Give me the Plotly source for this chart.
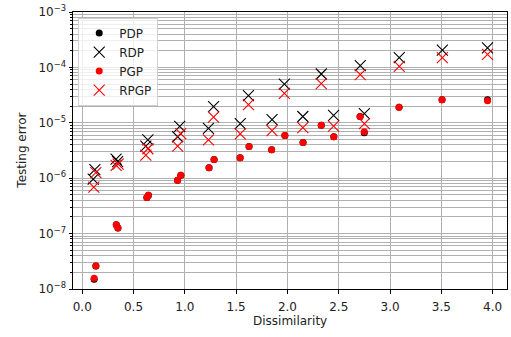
import plotly.graph_objects as go

# ---- data ----
rdp_x = [0.107, 0.123, 0.33, 0.345, 0.62, 0.64, 0.93, 0.95, 1.23, 1.28, 1.54, 1.62,
         1.85, 1.97, 2.15, 2.33, 2.45, 2.71, 2.75, 3.09, 3.51, 3.95]
rdp_y = [9.6e-7, 1.43e-6, 2.2e-6, 2.0e-6, 3.8e-6, 4.9e-6, 5.6e-6, 8.6e-6, 7.9e-6, 1.96e-5,
         9.7e-6, 3.1e-5, 1.14e-5, 5.0e-5, 1.3e-5, 7.6e-5, 1.36e-5, 1.08e-4, 1.46e-5,
         1.5e-4, 2.05e-4, 2.25e-4]

rpgp_x = [0.113, 0.133, 0.33, 0.35, 0.62, 0.64, 0.93, 0.96, 1.23, 1.28, 1.54, 1.62,
          1.85, 1.97, 2.15, 2.33, 2.45, 2.71, 2.75, 3.09, 3.51, 3.95]
rpgp_y = [6.9e-7, 1.26e-6, 1.7e-6, 1.8e-6, 2.6e-6, 3.4e-6, 3.8e-6, 6.4e-6, 4.9e-6, 1.27e-5,
          6.3e-6, 2.12e-5, 7.2e-6, 3.4e-5, 8.2e-6, 5.1e-5, 8.7e-6, 7.4e-5, 9.7e-6,
          1.04e-4, 1.5e-4, 1.72e-4]

pgp_x = [0.116, 0.133, 0.332, 0.348, 0.63, 0.645, 0.929, 0.961, 1.236, 1.285, 1.539, 1.626,
         1.846, 1.975, 2.152, 2.33, 2.452, 2.708, 2.749, 3.088, 3.507, 3.95]
pgp_y = [1.56e-8, 2.6e-8, 1.44e-7, 1.26e-7, 4.5e-7, 4.9e-7, 9.2e-7, 1.13e-6, 1.55e-6, 2.17e-6,
         2.33e-6, 3.75e-6, 3.27e-6, 5.9e-6, 4.4e-6, 9.0e-6, 5.6e-6, 1.3e-5, 6.9e-6,
         1.91e-5, 2.6e-5, 2.5e-5]

pdp_x = [0.116, 0.133, 0.332, 0.348, 0.63, 0.645, 0.929, 0.961, 1.236, 1.285, 1.539, 1.626,
         1.846, 1.975, 2.152, 2.33, 2.452, 2.708, 2.749, 3.088, 3.507, 3.95]
pdp_y = [1.5e-8, 2.6e-8, 1.44e-7, 1.26e-7, 4.5e-7, 4.9e-7, 9.2e-7, 1.13e-6, 1.55e-6, 2.17e-6,
         2.33e-6, 3.75e-6, 3.27e-6, 5.9e-6, 4.4e-6, 9.0e-6, 5.6e-6, 1.3e-5, 6.6e-6,
         1.91e-5, 2.6e-5, 2.6e-5]

x_ticks = [0.0, 0.5, 1.0, 1.5, 2.0, 2.5, 3.0, 3.5, 4.0]
x_tick_labels = ["0.0", "0.5", "1.0", "1.5", "2.0", "2.5", "3.0", "3.5", "4.0"]
y_ticks = [1e-8, 1e-7, 1e-6, 1e-5, 1e-4, 1e-3]
y_tick_labels = ["10<sup>−8</sup>", "10<sup>−7</sup>", "10<sup>−6</sup>",
                 "10<sup>−5</sup>", "10<sup>−4</sup>", "10<sup>−3</sup>"]

FONT = "DejaVu Sans"
GRID = "#b0b0b0"
FS = 12

fig = go.Figure()
fig.add_trace(go.Scatter(x=pdp_x, y=pdp_y, mode="markers", name="PDP",
                         marker=dict(symbol="circle", size=7, color="black",
                                     line=dict(width=0))))
fig.add_trace(go.Scatter(x=rdp_x, y=rdp_y, mode="markers", name="RDP",
                         marker=dict(symbol="x-thin", size=11, color="black",
                                     line=dict(width=1.1, color="black"))))
fig.add_trace(go.Scatter(x=pgp_x, y=pgp_y, mode="markers", name="PGP",
                         marker=dict(symbol="circle", size=7, color="red",
                                     line=dict(width=0))))
fig.add_trace(go.Scatter(x=rpgp_x, y=rpgp_y, mode="markers", name="RPGP",
                         marker=dict(symbol="x-thin", size=11, color="red",
                                     line=dict(width=1.1, color="red"))))

fig.update_layout(
    width=511, height=337,
    margin=dict(l=73, r=3, t=6, b=48),
    paper_bgcolor="white", plot_bgcolor="white",
    font=dict(family=FONT, size=FS, color="#222"),
    showlegend=True,
    legend=dict(x=0.012, y=0.98, xanchor="left", yanchor="top",
                bgcolor="rgba(255,255,255,0.8)", bordercolor="#d0d0d0", borderwidth=1,
                tracegroupgap=0, entrywidth=50, entrywidthmode="pixels",
                font=dict(size=FS, family=FONT, color="#222")),
    annotations=[
        dict(text="Testing error", xref="paper", yref="paper", x=-0.1195, y=0.5,
             xanchor="center", yanchor="middle", textangle=-90, showarrow=False,
             font=dict(size=FS, family=FONT, color="#222")),
        dict(text="Dissimilarity", xref="paper", yref="paper", x=0.5, y=-0.1155,
             xanchor="center", yanchor="middle", showarrow=False,
             font=dict(size=FS, family=FONT, color="#222")),
    ],
)
fig.update_xaxes(
    range=[-0.09, 4.14], tickvals=x_ticks, ticktext=x_tick_labels,
    tickfont=dict(size=FS),
    showline=True, mirror=True, linecolor="black", linewidth=1,
    ticks="outside", ticklen=3.5, tickwidth=0.8, tickcolor="black",
    ticklabelstandoff=3,
    showgrid=True, gridcolor=GRID, gridwidth=0.8, zeroline=False,
)
fig.update_yaxes(
    type="log", range=[-8, -3], tickvals=y_ticks, ticktext=y_tick_labels,
    tickfont=dict(size=FS),
    ticklabeloverflow="allow",
    showline=True, mirror=True, linecolor="black", linewidth=1,
    ticks="outside", ticklen=3.5, tickwidth=0.8, tickcolor="black",
    showgrid=True, gridcolor=GRID, gridwidth=0.8, zeroline=False,
    minor=dict(dtick="D1", ticks="outside", ticklen=2, tickcolor="black",
               showgrid=True, gridcolor=GRID, gridwidth=0.8),
)

fig.write_html("out.html")
